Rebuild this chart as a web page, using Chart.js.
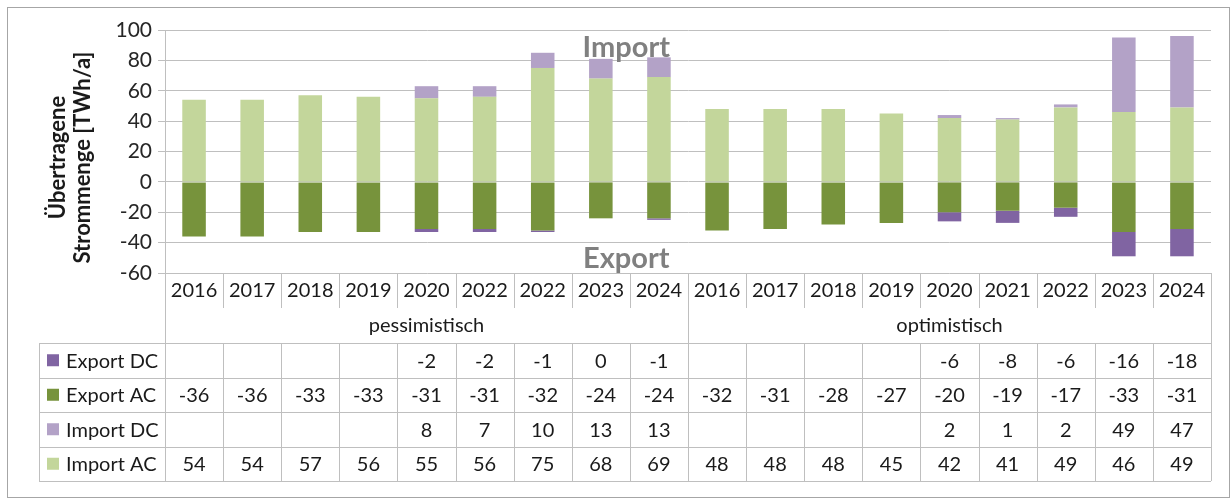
<!DOCTYPE html>
<html>
<head>
<meta charset="utf-8">
<script src="https://cdn.jsdelivr.net/npm/chart.js@4/dist/chart.umd.min.js"></script>
<style>
  html, body { margin: 0; padding: 0; background: #fff; }
  #wrap { width: 1231px; height: 504px; }
</style>
</head>
<body>
<div id="wrap"><canvas id="stromChart" width="1231" height="504"></canvas></div>
<script>
// Kategorien (Jahre) je Szenario
const years = ['2016', '2017', '2018', '2019', '2020', '2022', '2022', '2023', '2024',
               '2016', '2017', '2018', '2019', '2020', '2021', '2022', '2023', '2024']
const groups = ['pessimistisch', 'optimistisch']
const groupSize = [9, 9]

// Werte in TWh/a
const exportDC = [null, null, null, null, -2, -2, -1, 0, -1,
                  null, null, null, null, -6, -8, -6, -16, -18]
const exportAC = [-36, -36, -33, -33, -31, -31, -32, -24, -24,
                  -32, -31, -28, -27, -20, -19, -17, -33, -31]
const importDC = [null, null, null, null, 8, 7, 10, 13, 13,
                  null, null, null, null, 2, 1, 2, 49, 47]
const importAC = [54, 54, 57, 56, 55, 56, 75, 68, 69,
                  48, 48, 48, 45, 42, 41, 49, 46, 49]

const yTicks = [-60, -40, -20, 0, 20, 40, 60, 80, 100]

const FONT = 'Lato'
const GRID = '#bfbfbf'

// Reihenfolge der Tabellenzeilen wie im Original
const tableRows = [
  { label: 'Export DC', color: '#8064a2', values: exportDC },
  { label: 'Export AC', color: '#77933c', values: exportAC },
  { label: 'Import DC', color: '#b3a2c7', values: importDC },
  { label: 'Import AC', color: '#c3d69b', values: importAC }
]

const dataStrom = {
  labels: years,
  datasets: [
    { label: 'Import AC', data: importAC, backgroundColor: '#c3d69b' },
    { label: 'Import DC', data: importDC, backgroundColor: '#b3a2c7' },
    { label: 'Export AC', data: exportAC, backgroundColor: '#77933c' },
    { label: 'Export DC', data: exportDC, backgroundColor: '#8064a2' }
  ]
}

function fmt(v) {
  return String(v).replace('-', '-')
}

// Datentabelle, Achsentitel und Beschriftungen
const tablePlugin = {
  id: 'dataTable',
  afterDraw(chart) {
    const ctx = chart.ctx
    const xs = chart.scales.x
    const ys = chart.scales.y
    const area = chart.chartArea
    const n = years.length
    const cw = (area.right - area.left) / n
    const top = area.bottom
    const yearBottom = top + 35
    const groupBottom = top + 70
    const rowH = 34.5
    const tableBottom = groupBottom + rowH * tableRows.length
    const legendLeft = 39

    ctx.save()
    ctx.strokeStyle = GRID
    ctx.lineWidth = 1

    const hline = (x1, x2, y) => {
      ctx.beginPath(); ctx.moveTo(x1, Math.round(y) + 0.5); ctx.lineTo(x2, Math.round(y) + 0.5); ctx.stroke()
    }
    const vline = (x, y1, y2) => {
      ctx.beginPath(); ctx.moveTo(Math.round(x) + 0.5, y1); ctx.lineTo(Math.round(x) + 0.5, y2); ctx.stroke()
    }

    // Rahmen
    ctx.strokeStyle = '#a6a6a6'
    ctx.strokeRect(7.5, 7.5, 1222, 490)
    ctx.strokeStyle = GRID

    // horizontale Linien
    hline(legendLeft, area.right, groupBottom)
    for (let r = 1; r <= tableRows.length; r++) hline(legendLeft, area.right, groupBottom + rowH * r)
    // senkrechte Linien
    vline(area.left, area.top, tableBottom)
    vline(area.right, top, tableBottom)
    vline(legendLeft, groupBottom, tableBottom)
    let idx = 0
    groupSize.forEach((g, gi) => {
      for (let k = 1; k < g; k++) {
        const x = xs.getPixelForValue(idx + k) - cw / 2
        vline(x, top, yearBottom)
        vline(x, groupBottom, tableBottom)
      }
      idx += g
      if (gi < groupSize.length - 1) vline(xs.getPixelForValue(idx) - cw / 2, top, tableBottom)
    })

    ctx.fillStyle = '#1a1a1a'
    ctx.textBaseline = 'middle'
    ctx.textAlign = 'center'
    ctx.font = '20px ' + FONT
    years.forEach((y, i) => ctx.fillText(y, xs.getPixelForValue(i), top + 18))

    idx = 0
    groups.forEach((g, gi) => {
      const x1 = xs.getPixelForValue(idx) - cw / 2
      const x2 = xs.getPixelForValue(idx + groupSize[gi] - 1) + cw / 2
      ctx.fillText(g, (x1 + x2) / 2, top + 53)
      idx += groupSize[gi]
    })

    tableRows.forEach((row, r) => {
      const cy = groupBottom + rowH * r + rowH / 2
      ctx.fillStyle = row.color
      ctx.fillRect(47, cy - 6, 12, 12)
      ctx.fillStyle = '#1a1a1a'
      ctx.textAlign = 'left'
      ctx.fillText(row.label, 66, cy + 1)
      ctx.textAlign = 'center'
      row.values.forEach((v, i) => {
        if (v !== null) ctx.fillText(fmt(v), xs.getPixelForValue(i), cy + 1)
      })
    })

    // Achsentitel
    ctx.save()
    ctx.translate(58, (area.top + area.bottom) / 2 + 6)
    ctx.rotate(-Math.PI / 2)
    ctx.font = 'bold 22px ' + FONT
    ctx.textAlign = 'center'
    ctx.fillText('Übertragene', 0, 0)
    ctx.fillText('Strommenge [TWh/a]', 0, 25)
    ctx.restore()

    // Import / Export
    ctx.fillStyle = '#808080'
    ctx.font = 'bold 29px ' + FONT
    ctx.textAlign = 'center'
    ctx.textBaseline = 'alphabetic'
    const lx = area.left + (area.right - area.left) * 0.441
    ctx.fillText('Import', lx, ys.getPixelForValue(82.5))
    ctx.fillText('Export', lx, ys.getPixelForValue(-56.5))

    ctx.restore()
  }
}

const configStrom = {
  type: 'bar',
  data: dataStrom,
  options: {
    responsive: false,
    animation: false,
    layout: { padding: { left: 0, top: 30, right: 20, bottom: 231 } },
    datasets: { bar: { categoryPercentage: 1, barPercentage: 0.405 } },
    plugins: { legend: { display: false }, tooltip: { enabled: false } },
    scales: {
      x: { stacked: true, display: false },
      y: {
        stacked: true,
        min: -60,
        max: 100,
        afterFit(scale) { scale.width = 165 },
        afterBuildTicks(scale) { scale.ticks = yTicks.map(v => ({ value: v })) },
        ticks: { padding: 6, color: '#262626', font: { family: FONT, size: 21 } },
        grid: { color: GRID, tickLength: 7, tickColor: GRID },
        border: { display: true, color: GRID }
      }
    }
  },
  plugins: [tablePlugin]
}

const myChartStrom = new Chart(document.getElementById('stromChart'), configStrom)
</script>
</body>
</html>
